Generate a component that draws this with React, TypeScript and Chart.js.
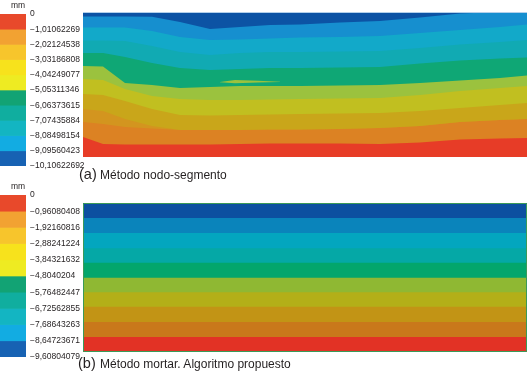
import React, { useEffect, useRef } from "react";
import { Chart, registerables } from "chart.js";

Chart.register(...registerables);

// ---------- Colour scales (legends) ----------
const levelsA = [0, -1.01062269, -2.02124538, -3.03186808, -4.04249077, -5.05311346, -6.06373615, -7.07435884, -8.08498154, -9.09560423, -10.10622692];
const levelsB = [0, -0.96080408, -1.92160816, -2.88241224, -3.84321632, -4.8040204, -5.76482447, -6.72562855, -7.68643263, -8.64723671, -9.60804079];
const legendColors = ["#e8492b", "#f2a232", "#f7c52c", "#f7e21c", "#eeeb22", "#12a374", "#10ae9f", "#13b5c2", "#12ace2", "#1762b3"];

// ---------- Plot (a): método nodo-segmento ----------
const stationsA = [0, 20, 42, 69, 97, 127, 157, 187, 217, 257, 297, 337, 377, 417, 444];
const boundaryA1 = [140.5, 140.5, 140.5, 140.3, 135, 128, 130, 132, 132.5, 134.5, 136, 139.5, 143.5, 145, 145];
const boundaryA2 = [129.5, 129.5, 129.5, 126, 120, 117, 117.5, 118.5, 119.5, 120, 121, 124, 127, 130, 132.5];
const boundaryA3 = [116.5, 116.5, 116, 111, 105, 102, 104, 105, 105, 105.5, 106, 109, 112.5, 115, 117];
const boundaryA4 = [104, 104, 100, 94, 89, 87, 88, 89, 89, 89.5, 90, 93.5, 96.5, 98.5, 99.5];
const boundaryA5 = [91, 90.5, 74, 72, 69, 70, 71, 71, 71, 71.5, 72, 74, 76.5, 79, 81.5];
const boundaryA6 = [78, 77, 68, 61, 58, 57, 57, 57.5, 58, 58.5, 59, 62, 66, 69, 71];
const boundaryA7 = [63, 62, 56, 48, 42, 41.5, 42, 42.5, 43, 43.5, 44, 46, 49, 52, 54];
const boundaryA8 = [48, 46, 38, 31, 27, 27, 27, 27.5, 27.5, 28, 29, 31, 35, 37, 38];
const boundaryA9 = [35, 33, 30, 28.5, 27, 27, 27, 27.5, 27.5, 28, 29, 31, 35, 37, 38];
const boundaryA10 = [20, 13, 12.5, 12.5, 12.5, 12.5, 13, 13.5, 13.5, 13.5, 13, 14.5, 17.5, 18.5, 19];
const boundaryA11 = [0, 0, 0, 0, 0, 0, 0, 0, 0, 0, 0, 0, 0, 0, 0];
const islandX = [137, 152, 175, 197];
const islandTopA = [75, 77, 76.3, 75.3];
const islandBottomA = [74.8, 73.8, 74.6, 75.1];
const colorsA = ["#0c53a4", "#168fcf", "#12a9c9", "#11aab3", "#0fa775", "#9bc23e", "#c1bf20", "#c9a61a", "#d3951f", "#dc8223", "#e73c27"];
const widthA = 444;
const heightA = 145;

// ---------- Plot (b): método mortar ----------
const stationsB = [0, 444];
const boundariesB = [133.5, 118.5, 103.5, 89, 74, 59.5, 45, 30, 15, 0];
const colorsB = ["#0c50a0", "#0a84bb", "#03a6bf", "#05a8a6", "#03a66c", "#8fb833", "#b3af18", "#c29415", "#c9781b", "#e23225"];
const heightB = 148.5;

const FONT = "'Liberation Sans', Arial, Helvetica, sans-serif";

const pts = (xs: number[], ys: number[]) => xs.map((x, i) => ({ x, y: ys[i] }));

const fmt = (v: number) => (v === 0 ? "0" : "\u2212" + String(Math.abs(v)).replace(".", ","));

function ColorBar(props: { levels: number[]; colors: string[]; left: number; top: number; width: number; height: number; padTop: number; padBottom: number; barWidth: number }) {
  const ref = useRef<HTMLCanvasElement>(null);
  useEffect(() => {
    const { levels, colors } = props;
    const chart = new Chart(ref.current!, {
      type: "bar",
      data: {
        labels: [""],
        datasets: colors.map((c, i) => ({
          data: [[levels[i + 1], levels[i]]],
          backgroundColor: c,
          borderWidth: 0,
          grouped: false,
          barPercentage: 1,
          categoryPercentage: 1,
        })) as any,
      },
      options: {
        responsive: false,
        animation: false,
        events: [],
        layout: { padding: { top: props.padTop, bottom: props.padBottom, left: 0, right: 0 } },
        plugins: { legend: { display: false }, tooltip: { enabled: false } },
        scales: {
          x: { display: false },
          y: {
            position: "right",
            min: levels[levels.length - 1],
            max: 0,
            grid: { display: false, drawTicks: false },
            border: { display: false },
            afterBuildTicks: (axis: any) => {
              axis.ticks = levels.map((v) => ({ value: v }));
            },
            afterFit: (axis: any) => {
              axis.width = props.width - props.barWidth;
            },
            ticks: {
              autoSkip: false,
              padding: 4,
              color: "#231f20",
              font: { family: FONT, size: 8.5 },
              callback: (v: any) => fmt(Number(v)),
            },
          },
        },
      } as any,
    });
    return () => chart.destroy();
  }, []);
  return (
    <canvas
      ref={ref}
      width={props.width}
      height={props.height}
      style={{ position: "absolute", left: props.left, top: props.top, width: props.width, height: props.height }}
    />
  );
}

function Contour(props: { datasets: any[]; xMax: number; yMax: number; left: number; top: number; width: number; height: number; frame: "top" | "box"; frameColor: string }) {
  const ref = useRef<HTMLCanvasElement>(null);
  useEffect(() => {
    const framePlugin = {
      id: "frame",
      afterDraw(chart: any) {
        const { ctx, chartArea } = chart;
        ctx.save();
        ctx.strokeStyle = props.frameColor;
        ctx.lineWidth = 1;
        ctx.beginPath();
        if (props.frame === "top") {
          ctx.moveTo(chartArea.left, chartArea.top + 0.5);
          ctx.lineTo(chartArea.right, chartArea.top + 0.5);
        } else {
          ctx.rect(chartArea.left + 0.5, chartArea.top + 0.5, chartArea.right - chartArea.left - 1, chartArea.bottom - chartArea.top - 1);
        }
        ctx.stroke();
        ctx.restore();
      },
    };
    const chart = new Chart(ref.current!, {
      type: "line",
      data: { datasets: props.datasets },
      options: {
        responsive: false,
        animation: false,
        events: [],
        layout: { padding: 0 },
        plugins: { legend: { display: false }, tooltip: { enabled: false } },
        elements: { point: { radius: 0 }, line: { tension: 0, borderWidth: 0, borderColor: "rgba(0,0,0,0)" } },
        scales: {
          x: { type: "linear", min: 0, max: props.xMax, display: false },
          y: { type: "linear", min: 0, max: props.yMax, display: false },
        },
      } as any,
      plugins: [framePlugin],
    });
    return () => chart.destroy();
  }, []);
  return (
    <canvas
      ref={ref}
      width={props.width}
      height={props.height}
      style={{ position: "absolute", left: props.left, top: props.top, width: props.width, height: props.height }}
    />
  );
}

const lineDs = (data: any[], fill: any, color: string) => ({
  data,
  fill,
  backgroundColor: color,
  borderColor: "rgba(0,0,0,0)",
  borderWidth: 0,
  pointRadius: 0,
});

export default function App() {
  const boundariesA = [boundaryA1, boundaryA2, boundaryA3, boundaryA4, boundaryA5, boundaryA6, boundaryA7, boundaryA8, boundaryA9, boundaryA10, boundaryA11];
  const datasetsA = [
    lineDs(pts(islandX, islandTopA), "+1", colorsA[5]),
    lineDs(pts(islandX, islandBottomA), false, colorsA[5]),
    ...boundariesA.map((b, i) => lineDs(pts(stationsA, b), "end", colorsA[i])),
  ];
  const datasetsB = boundariesB.map((h, i) => lineDs(pts(stationsB, [h, h]), "end", colorsB[i]));

  const text = (s: string, left: number, top: number, size: number) => (
    <div style={{ position: "absolute", left, top, fontFamily: FONT, fontSize: size, lineHeight: size + "px", color: "#231f20", whiteSpace: "nowrap", zIndex: 2 }}>{s}</div>
  );

  return (
    <div style={{ position: "absolute", left: 0, top: 0, width: 527, height: 378, overflow: "hidden", background: "#fff" }}>
      <ColorBar levels={levelsA} colors={legendColors} left={0} top={0} width={100} height={180} padTop={14} padBottom={14} barWidth={26} />
      <Contour datasets={datasetsA} xMax={widthA} yMax={heightA} left={83} top={12} width={444} height={145} frame="top" frameColor="#b3d0ea" />
      <ColorBar levels={levelsB} colors={legendColors} left={0} top={180} width={100} height={190} padTop={15} padBottom={13} barWidth={26} />
      <Contour datasets={datasetsB} xMax={widthA} yMax={heightB} left={83} top={203} width={444} height={149} frame="box" frameColor="#3a9a58" />

      {text("mm", 11, 0.5, 8.5)}
      {text("(a)", 79, 166.7, 14.5)}
      {text("Método nodo-segmento", 100, 168.8, 12)}
      {text("mm", 11, 182, 8.5)}
      {text("(b)", 78, 356.2, 14.5)}
      {text("Método mortar. Algoritmo propuesto", 100, 358.3, 12)}
    </div>
  );
}
